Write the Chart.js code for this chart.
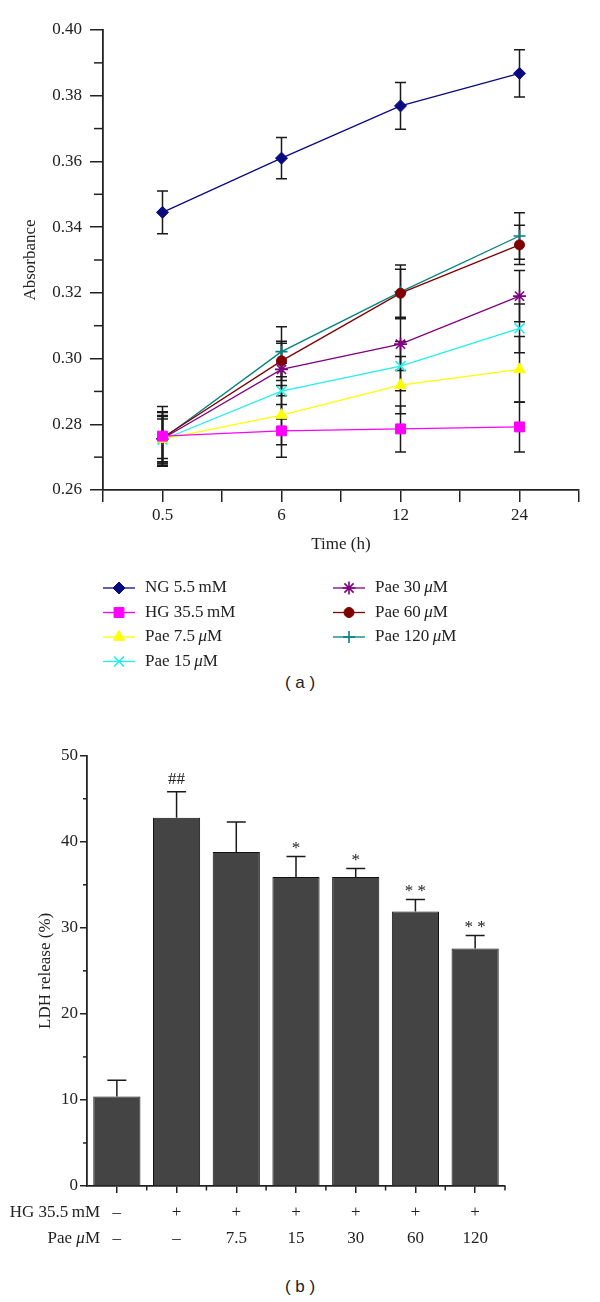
<!DOCTYPE html>
<html>
<head>
<meta charset="utf-8">
<script src="https://cdn.jsdelivr.net/npm/chart.js@4.4.1/dist/chart.umd.min.js"></script>
<style>
  body { margin: 0; background: #fff; width: 600px; height: 1302px; position: relative; }
  #chartA { position: absolute; left: 0; top: 0; }
  #chartB { position: absolute; left: 0; top: 700px; }
  .cap { position: absolute; left: 0; width: 600px; text-align: center; line-height: 20px;
         font-family: "Liberation Sans", Arial, sans-serif; font-size: 17px; color: #222; }
</style>
</head>
<body>
<canvas id="chartA" width="600" height="670"></canvas>
<div class="cap" style="top:673px">( a )</div>
<canvas id="chartB" width="600" height="560"></canvas>
<div class="cap" style="top:1277px">( b )</div>
<script>
// ---- (a) absorbance vs time ----
const times = ['0.5', '6', '12', '24'];
const seriesNames = ['NG 5.5\u2009mM', 'HG 35.5\u2009mM', 'Pae 7.5\u2009μM', 'Pae 15\u2009μM',
                     'Pae 30\u2009μM', 'Pae 60\u2009μM', 'Pae 120\u2009μM'];
const ng     = [0.3445, 0.3610, 0.3769, 0.3868];
const hg     = [0.2764, 0.2780, 0.2786, 0.2792];
const pae7_5 = [0.2755, 0.2828, 0.2919, 0.2967];
const pae15  = [0.2753, 0.2901, 0.2977, 0.3092];
const pae30  = [0.2756, 0.2967, 0.3044, 0.3190];
const pae60  = [0.2759, 0.2993, 0.3199, 0.3346];
const pae120 = [0.2755, 0.3021, 0.3203, 0.3373];
// +/- error (SD)
const ngErr     = [0.0065, 0.0063, 0.0071, 0.0072];
const hgErr     = [0.0090, 0.0080, 0.0070, 0.0076];
const pae7_5Err = [0.0083, 0.0090, 0.0087, 0.0100];
const pae15Err  = [0.0074, 0.0085, 0.0075, 0.0074];
const pae30Err  = [0.0060, 0.0080, 0.0080, 0.0078];
const pae60Err  = [0.0077, 0.0060, 0.0073, 0.0060];
const pae120Err = [0.0069, 0.0076, 0.0082, 0.0071];
const absTicks = [0.26, 0.28, 0.30, 0.32, 0.34, 0.36, 0.38, 0.40];

// ---- (b) LDH release ----
const hgRow  = ['–', '+', '+', '+', '+', '+', '+'];
const paeRow = ['–', '–', '7.5', '15', '30', '60', '120'];
const ldh    = [10.4, 42.8, 38.8, 35.9, 35.9, 31.9, 27.6];
const ldhErr = [1.9, 3.0, 3.5, 2.4, 1.0, 1.4, 1.5];
const marks  = ['', '##', '', '*', '*', '* *', '* *'];
const ldhTicks = [0, 10, 20, 30, 40, 50];

const FONT = '"Liberation Serif", "Times New Roman", serif';
const INK = '#222';
Chart.defaults.color = INK;
Chart.defaults.font.family = FONT;

// draws text, putting every μ in italic
function drawRich(ctx, text, x, y, align) {
  const base = '17px ' + FONT, ital = 'italic 17px ' + FONT;
  const pieces = [];
  text.split('μ').forEach((p, i) => { if (i) pieces.push(['μ', ital]); pieces.push([p, base]); });
  let w = 0;
  pieces.forEach(pc => { ctx.font = pc[1]; w += ctx.measureText(pc[0]).width; });
  let cx = align === 'right' ? x - w : x;
  ctx.textAlign = 'left';
  pieces.forEach(pc => { ctx.font = pc[1]; ctx.fillText(pc[0], cx, y); cx += ctx.measureText(pc[0]).width; });
}

const looks = [
  { color: '#0a0a80', point: 'rectRot',  r: 6,   bw: 1 },
  { color: '#ff00ff', point: 'rect',     r: 7,   bw: 1 },
  { color: '#ffff00', point: 'triangle', r: 6.5, bw: 1 },
  { color: '#22eeee', point: 'crossRot', r: 7,   bw: 1.6 },
  { color: '#800080', point: 'star',     r: 6.5, bw: 1.6 },
  { color: '#800000', point: 'circle',   r: 5,   bw: 1 },
  { color: '#008080', point: 'cross',    r: 6,   bw: 1.6 }
];
const seriesA = [ng, hg, pae7_5, pae15, pae30, pae60, pae120];
const errA = [ngErr, hgErr, pae7_5Err, pae15Err, pae30Err, pae60Err, pae120Err];

const errorBarsA = {
  id: 'errorBarsA',
  beforeDatasetsDraw(chart) {
    const { ctx, scales: { x, y } } = chart;
    ctx.save();
    ctx.strokeStyle = '#1a1a1a';
    ctx.lineWidth = 1.5;
    chart.data.datasets.forEach(ds => {
      ds.errors.forEach((e, i) => {
        const px = x.getPixelForValue(i);
        const v = ds.data[i].y;
        const top = y.getPixelForValue(v + e), bot = y.getPixelForValue(v - e);
        ctx.beginPath();
        ctx.moveTo(px, top); ctx.lineTo(px, bot);
        ctx.moveTo(px - 5.5, top); ctx.lineTo(px + 5.5, top);
        ctx.moveTo(px - 5.5, bot); ctx.lineTo(px + 5.5, bot);
        ctx.stroke();
      });
    });
    ctx.restore();
  },
  afterDraw(chart) {
    const { ctx, scales: { y } } = chart;
    // minor ticks on the y axis
    ctx.save();
    ctx.strokeStyle = INK;
    ctx.lineWidth = 1.5;
    for (let k = 0; k < absTicks.length - 1; k++) {
      const py = y.getPixelForValue((absTicks[k] + absTicks[k + 1]) / 2);
      ctx.beginPath(); ctx.moveTo(y.right - 9, py); ctx.lineTo(y.right, py); ctx.stroke();
    }
    // legend in two columns
    const cols = [{ x: 103, rows: [0, 1, 2, 3] }, { x: 333, rows: [4, 5, 6] }];
    const rowY = [588, 612.5, 637, 661.5];
    ctx.textBaseline = 'middle';
    cols.forEach(col => col.rows.forEach((di, r) => {
      const ds = chart.data.datasets[di];
      const yy = rowY[r];
      ctx.strokeStyle = ds.borderColor; ctx.lineWidth = ds.borderWidth;
      ctx.beginPath(); ctx.moveTo(col.x, yy); ctx.lineTo(col.x + 32, yy); ctx.stroke();
      ctx.fillStyle = ds.pointBackgroundColor; ctx.strokeStyle = ds.pointBorderColor;
      ctx.lineWidth = ds.pointBorderWidth;
      Chart.helpers.drawPoint(ctx, { pointStyle: ds.pointStyle, radius: ds.pointRadius,
        borderWidth: ds.pointBorderWidth, rotation: 0 }, col.x + 16, yy);
      ctx.fillStyle = INK;
      drawRich(ctx, ds.label, col.x + 42, yy);
    }));
    ctx.restore();
  }
};

new Chart(document.getElementById('chartA'), {
  type: 'line',
  data: {
    datasets: seriesA.map((vals, k) => ({
      label: seriesNames[k],
      data: vals.map((v, i) => ({ x: i, y: v })),
      errors: errA[k],
      borderColor: looks[k].color,
      borderWidth: 1.3,
      pointStyle: looks[k].point,
      pointRadius: looks[k].r,
      pointHoverRadius: looks[k].r,
      pointBackgroundColor: looks[k].color,
      pointBorderColor: looks[k].color,
      pointBorderWidth: looks[k].bw,
      tension: 0,
      fill: false
    }))
  },
  options: {
    responsive: false,
    animation: false,
    events: [],
    layout: { padding: { top: 30, right: 21, bottom: 110, left: 0 } },
    plugins: { legend: { display: false }, tooltip: { enabled: false } },
    scales: {
      x: {
        type: 'linear',
        min: -0.5, max: 3.5,
        afterBuildTicks(s) {
          s.ticks = [];
          for (let k = 0; k <= times.length * 2; k++) s.ticks.push({ value: -0.5 + k * 0.5 });
        },
        afterFit(s) { s.height = 70; },
        grid: { drawOnChartArea: false, tickLength: 12, color: INK, lineWidth: 1.5 },
        border: { color: INK, width: 1.8 },
        ticks: {
          autoSkip: false, maxRotation: 0, padding: 3,
          font: { size: 17 },
          callback: v => Number.isInteger(v) ? times[v] : ''
        },
        title: { display: true, text: 'Time (h)', font: { size: 17 }, padding: { top: 0, bottom: 5 } }
      },
      y: {
        min: 0.26, max: 0.40,
        afterBuildTicks(s) { s.ticks = absTicks.map(v => ({ value: v })); },
        afterFit(s) { s.width = 103; },
        grid: { drawOnChartArea: false, tickLength: 13, color: INK, lineWidth: 1.5 },
        border: { color: INK, width: 1.8 },
        ticks: { padding: 8, font: { size: 17 }, callback: v => v.toFixed(2) },
        title: { display: true, text: 'Absorbance', font: { size: 17 }, padding: { top: 20, bottom: 0 } }
      }
    }
  },
  plugins: [errorBarsA]
});

const extrasB = {
  id: 'extrasB',
  afterDatasetsDraw(chart) {
    const { ctx, scales: { x, y } } = chart;
    ctx.save();
    ctx.strokeStyle = '#1a1a1a';
    ctx.lineWidth = 1.5;
    ctx.fillStyle = INK;
    ctx.font = '17px ' + FONT;
    ctx.textAlign = 'center';
    ctx.textBaseline = 'alphabetic';
    ldh.forEach((v, i) => {
      const px = x.getPixelForValue(i);
      const top = y.getPixelForValue(v + ldhErr[i]);
      ctx.beginPath();
      ctx.moveTo(px, y.getPixelForValue(v)); ctx.lineTo(px, top);
      ctx.moveTo(px - 9.5, top); ctx.lineTo(px + 9.5, top);
      ctx.stroke();
      if (marks[i]) {
        const m = ctx.measureText(marks[i]);
        ctx.fillText(marks[i], px, top - 7.5 - m.actualBoundingBoxDescent);
      }
    });
    ctx.restore();
  },
  afterDraw(chart) {
    const { ctx, scales: { x, y } } = chart;
    ctx.save();
    ctx.strokeStyle = INK;
    ctx.lineWidth = 1.5;
    // minor ticks
    for (let k = 0; k < ldhTicks.length - 1; k++) {
      const py = y.getPixelForValue((ldhTicks[k] + ldhTicks[k + 1]) / 2);
      ctx.beginPath(); ctx.moveTo(y.right - 4, py); ctx.lineTo(y.right, py); ctx.stroke();
    }
    const half = (x.getPixelForValue(1) - x.getPixelForValue(0)) / 2;
    for (let i = 0; i < ldh.length; i++) {
      const px = x.getPixelForValue(i) + half;
      ctx.beginPath(); ctx.moveTo(px, x.top); ctx.lineTo(px, x.top + 4.5); ctx.stroke();
    }
    // row headers for the two label rows
    const lh = 17 * 1.53;
    const y1 = x.top + 7 + 7 + lh / 2;
    ctx.fillStyle = INK;
    ctx.textBaseline = 'middle';
    drawRich(ctx, 'HG 35.5\u2009mM', 100, y1, 'right');
    drawRich(ctx, 'Pae μM', 100, y1 + lh, 'right');
    ctx.restore();
  }
};

new Chart(document.getElementById('chartB'), {
  type: 'bar',
  data: {
    labels: hgRow.map((h, i) => [h, paeRow[i]]),
    datasets: [{
      data: ldh,
      backgroundColor: '#444444',
      borderColor: '#111111',
      borderWidth: 1,
      barPercentage: 0.79,
      categoryPercentage: 1
    }]
  },
  options: {
    responsive: false,
    animation: false,
    events: [],
    layout: { padding: { top: 55.7, right: 95, bottom: 0, left: 0 } },
    plugins: { legend: { display: false }, tooltip: { enabled: false } },
    scales: {
      x: {
        offset: true,
        afterFit(s) { s.height = 74; },
        grid: { offset: false, drawOnChartArea: false, tickLength: 7, color: INK, lineWidth: 1.5 },
        border: { color: INK, width: 1.8 },
        ticks: { autoSkip: false, maxRotation: 0, padding: 7, font: { size: 17, lineHeight: 1.53 } }
      },
      y: {
        min: 0, max: 50,
        afterBuildTicks(s) { s.ticks = ldhTicks.map(v => ({ value: v })); },
        afterFit(s) { s.width = 87; },
        grid: { drawOnChartArea: false, tickLength: 7, color: INK, lineWidth: 1.5 },
        border: { color: INK, width: 1.8 },
        ticks: { padding: 2, font: { size: 17 } },
        title: { display: true, text: 'LDH release (%)', font: { size: 17 }, padding: { top: 35, bottom: 0 } }
      }
    }
  },
  plugins: [extrasB]
});
</script>
</body>
</html>
